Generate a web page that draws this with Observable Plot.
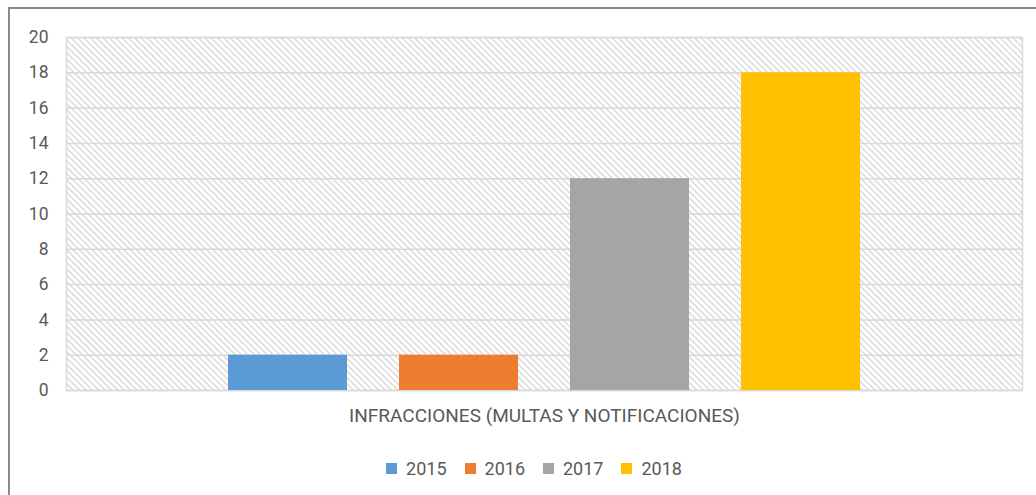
<!DOCTYPE html>
<html>
<head>
<meta charset="utf-8">
<script src="https://cdn.jsdelivr.net/npm/d3@7"></script>
<script src="https://cdn.jsdelivr.net/npm/@observablehq/plot@0.6"></script>
<style>
  html, body { margin: 0; padding: 0; background: #fff; }
  #frame { position: absolute; left: 8px; top: 7px; width: 1036px; height: 495px;
           border-top: 2px solid #8a8a8a; border-left: 2px solid #8a8a8a; box-sizing: border-box; }
  #chart { position: absolute; left: 0; top: 0; }
  #legend { position: absolute; left: 25px; top: 452px; width: 1036px; display: flex; justify-content: center; }
  #legend > * { margin: 0 !important; }
  #legend .plot-swatch { margin-right: 24px !important; }
  #legend .plot-swatch svg { margin-right: 6px !important; }
</style>
</head>
<body>
<div id="frame"></div>
<div id="chart"></div>
<div id="legend"></div>
<script>
const category = ["INFRACCIONES (MULTAS Y NOTIFICACIONES)"];
const years = ["2015", "2016", "2017", "2018"];
const values = [2, 2, 12, 18];
const colors = ["#5b9bd5", "#ed7d31", "#a5a5a5", "#ffc000"];
const yTicks = [0, 2, 4, 6, 8, 10, 12, 14, 16, 18, 20];

const data = years.map((y, i) => ({cat: category[0], year: y, value: values[i]}));
const font = "Roboto, sans-serif";

const plot = Plot.plot({
  width: 1036,
  height: 440,
  marginLeft: 66,
  marginRight: 14,
  marginTop: 37,
  marginBottom: 50,
  style: {fontFamily: font, fontSize: "17px", color: "#595959", background: "transparent"},
  fx: {domain: category, padding: 0, label: null, axis: null},
  x: {domain: years, paddingInner: 0.304, paddingOuter: 0.947, axis: null},
  y: {domain: [0, 20], ticks: yTicks, label: null},
  color: {domain: years, range: colors},
  marks: [
    Plot.frame({fill: "url(#hatch)", stroke: "#d9d9d9", strokeWidth: 1.5}),
    Plot.gridY(yTicks, {stroke: "#d9d9d9", strokeOpacity: 1, strokeWidth: 1.5}),
    Plot.axisY(yTicks, {tickSize: 0, tickPadding: 18, fill: "#595959", fontSize: 17.5, label: null}),
    Plot.axisFx({tickSize: 0, tickPadding: 18, fill: "#595959", fontSize: 19, label: null, anchor: "bottom"}),
    Plot.barY(data, {fx: "cat", x: "year", y: "value", fill: "year"})
  ]
});

const defs = d3.select(plot).insert("defs", ":first-child");
const pat = defs.append("pattern")
  .attr("id", "hatch").attr("patternUnits", "userSpaceOnUse")
  .attr("width", 4.5).attr("height", 4.5)
  .attr("patternTransform", "rotate(-45)");
pat.append("rect").attr("width", 4.5).attr("height", 4.5).attr("fill", "#ffffff");
pat.append("line").attr("x1", 1).attr("y1", 0).attr("x2", 1).attr("y2", 4.5)
  .attr("stroke", "#dadada").attr("stroke-width", 1.5);

document.getElementById("chart").appendChild(plot);

const legend = Plot.legend({
  color: {domain: years, range: colors},
  swatchSize: 11,
  swatchWidth: 11,
  swatchHeight: 11,
  style: {fontFamily: font, fontSize: "18px", color: "#595959"}
});
document.getElementById("legend").appendChild(legend);
</script>
</body>
</html>
